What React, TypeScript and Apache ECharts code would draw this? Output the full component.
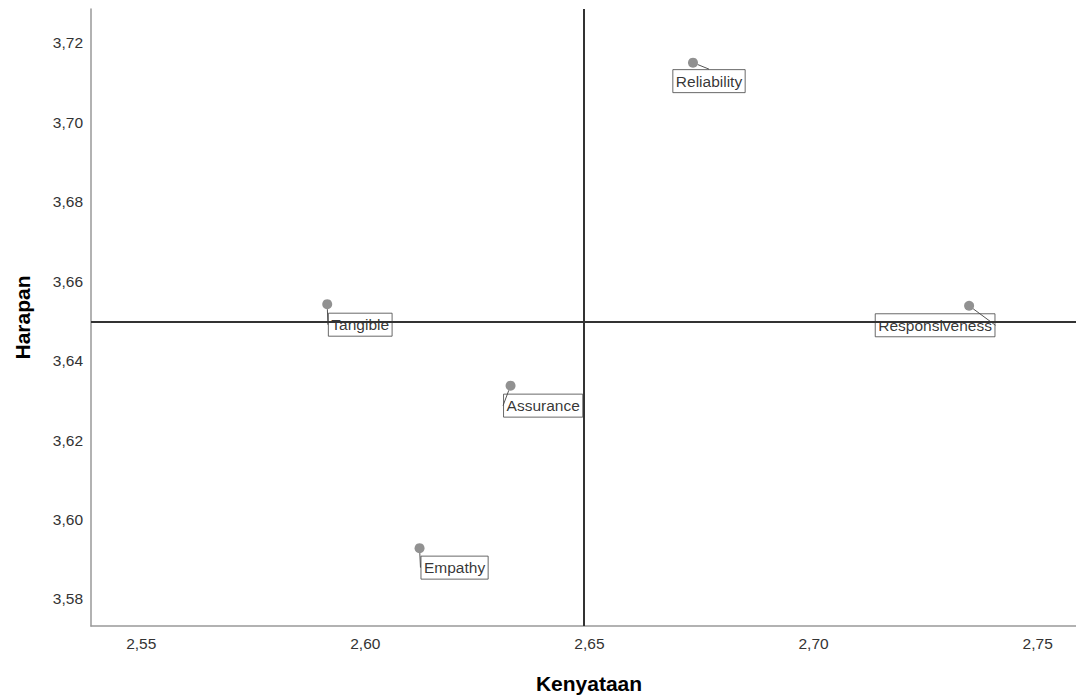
import React, { useEffect, useRef } from "react";
import * as echarts from "echarts";

const names = ["Reliability", "Tangible", "Responsiveness", "Assurance", "Empathy"];
const kenyataan = [2.6731, 2.5915, 2.7347, 2.6324, 2.6121];
const harapan = [3.715, 3.6542, 3.6538, 3.6337, 3.5928];
const meanKenyataan = 2.6488;
const meanHarapan = 3.6497;
const xTicks = [2.55, 2.6, 2.65, 2.7, 2.75];
const yTicks = [3.58, 3.6, 3.62, 3.64, 3.66, 3.68, 3.7, 3.72];

// label box offsets (style only) relative to each point
const labelOffsets = [
  [16, 18.5],
  [33, 20.5],
  [-34, 19.5],
  [32.6, 20],
  [35, 19.5],
];

const fmt = (v: number) => v.toFixed(2).replace(".", ",");
const FONT = "'Liberation Sans', Arial, sans-serif";

export default function App() {
  const ref = useRef<HTMLDivElement>(null);
  useEffect(() => {
    if (!ref.current) return;
    const chart = echarts.init(ref.current, null, { renderer: "svg" });
    const data = names.map((n, i) => ({ name: n, value: [kenyataan[i], harapan[i]] }));
    chart.setOption({
      animation: false,
      backgroundColor: "#fff",
      textStyle: { fontFamily: FONT },
      grid: { left: 91, top: 9, right: 0, bottom: 71, containLabel: false },
      xAxis: {
        type: "value",
        min: 2.5388,
        max: 2.761,
        name: "Kenyataan",
        nameLocation: "middle",
        nameGap: 47,
        nameTextStyle: { fontSize: 21, fontWeight: "bold", color: "#000", fontFamily: FONT },
        axisLine: { show: true, onZero: false, lineStyle: { color: "#999", width: 1.5 } },
        axisTick: { show: false },
        splitLine: { show: false },
        axisLabel: {
          customValues: xTicks,
          formatter: (v: number) => fmt(v),
          fontSize: 15.5,
          color: "#333",
          margin: 9,
          fontFamily: FONT,
        },
      },
      yAxis: {
        type: "value",
        min: 3.5732,
        max: 3.7285,
        name: "Harapan",
        nameLocation: "middle",
        nameGap: 58,
        nameTextStyle: { fontSize: 21, fontWeight: "bold", color: "#000", fontFamily: FONT },
        axisLine: { show: true, onZero: false, lineStyle: { color: "#999", width: 1.5 } },
        axisTick: { show: false },
        splitLine: { show: false },
        axisLabel: {
          customValues: yTicks,
          formatter: (v: number) => fmt(v),
          fontSize: 15.5,
          color: "#333",
          margin: 8,
          fontFamily: FONT,
        },
      },
      series: [
        {
          type: "scatter",
          data,
          symbolSize: 10,
          itemStyle: { color: "#767676" },
          label: {
            show: true,
            position: "inside",
            formatter: (p: any) => p.name,
            fontSize: 15.5,
            color: "#000",
            fontFamily: FONT,
            borderColor: "#444",
            borderWidth: 1,
            padding: [4, 3, 3, 3],
          },
          labelLine: { show: true, lineStyle: { color: "#555", width: 1 } },
          labelLayout: (params: any) => {
            const o = labelOffsets[params.dataIndex] || [0, 0];
            return { dx: o[0], dy: o[1], hideOverlap: false };
          },
          markLine: {
            silent: true,
            symbol: "none",
            precision: 6,
            label: { show: false },
            lineStyle: { color: "#333", width: 2, type: "solid" },
            data: [{ xAxis: meanKenyataan }, { yAxis: meanHarapan }],
          },
        },
      ],
    });
    return () => chart.dispose();
  }, []);
  return (
    <div style={{ position: "absolute", left: 0, top: 0, width: 1076, height: 699, overflow: "hidden" }}>
      <div ref={ref} style={{ position: "absolute", left: 0, top: 0, width: 1087, height: 699 }} />
    </div>
  );
}
